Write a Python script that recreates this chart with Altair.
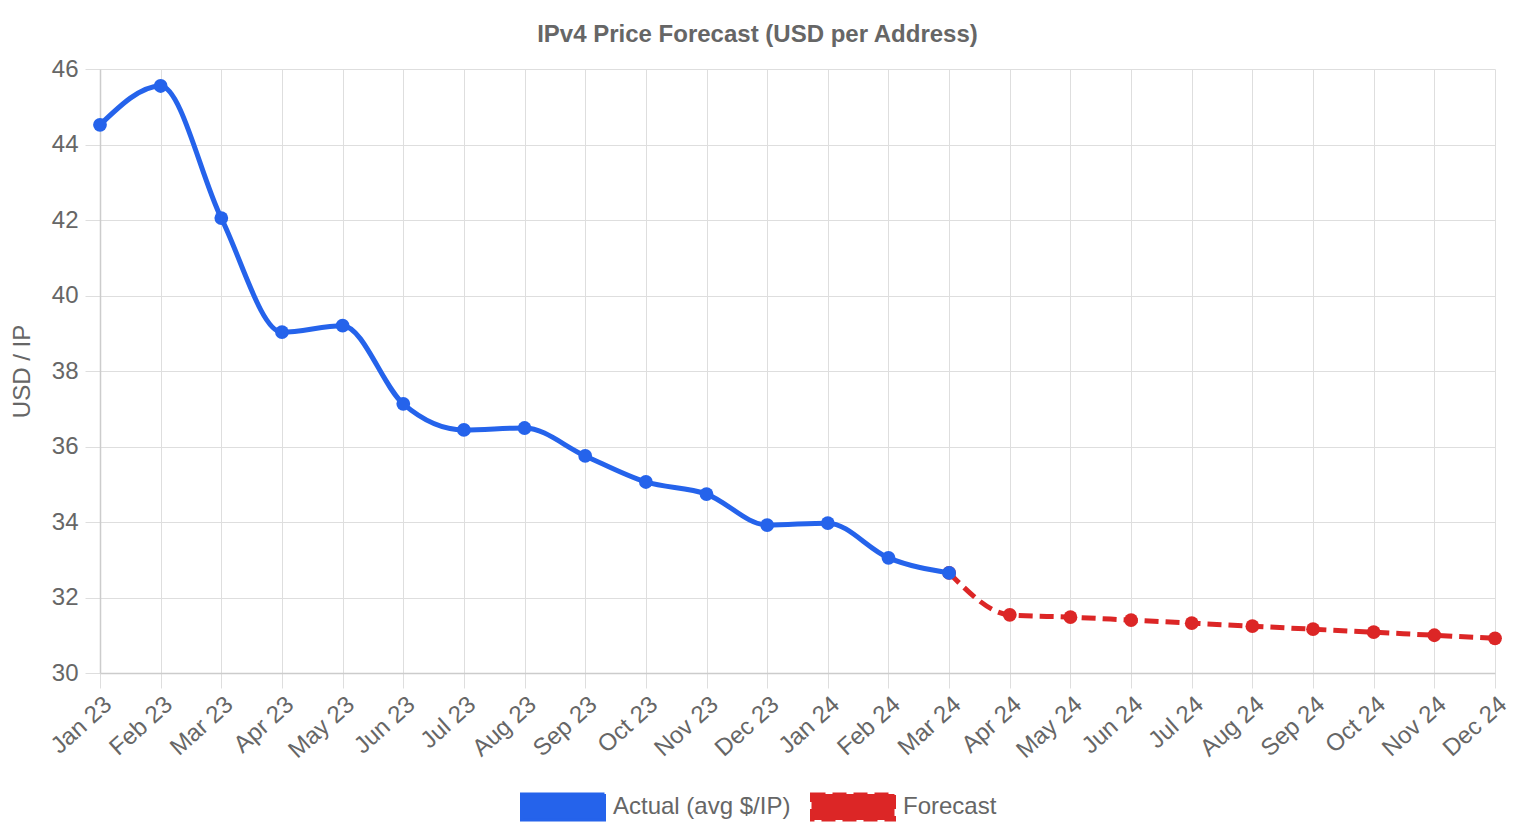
import altair as alt
import pandas as pd

# Monthly labels, Jan 2023 through Dec 2024
months = [
    "Jan 23", "Feb 23", "Mar 23", "Apr 23", "May 23", "Jun 23",
    "Jul 23", "Aug 23", "Sep 23", "Oct 23", "Nov 23", "Dec 23",
    "Jan 24", "Feb 24", "Mar 24", "Apr 24", "May 24", "Jun 24",
    "Jul 24", "Aug 24", "Sep 24", "Oct 24", "Nov 24", "Dec 24",
]

# Observed average price per IPv4 address (Jan 23 - Mar 24)
actual_values = [44.52, 45.55, 42.05, 39.03, 39.20, 37.13, 36.44, 36.49,
                 35.75, 35.06, 34.74, 33.92, 33.97, 33.05, 32.65]

# Forecast, continuing from the last observed month (Mar 24 - Dec 24)
forecast_values = [32.65, 31.54, 31.48, 31.40, 31.32, 31.24, 31.16, 31.08,
                   31.00, 30.92]

ACTUAL = "Actual (avg $/IP)"
FORECAST = "Forecast"
BLUE = "#2563eb"
RED = "#dc2626"
TEXT = "#666666"
FONT = "Liberation Sans"
DASH = [14, 7]

actual_df = pd.DataFrame({
    "month": months[:len(actual_values)],
    "price": actual_values,
    "series": ACTUAL,
})
forecast_df = pd.DataFrame({
    "month": months[len(actual_values) - 1:],
    "price": forecast_values,
    "series": FORECAST,
})

x_enc = alt.X(
    "month:N",
    sort=months,
    scale=alt.Scale(type="point", domain=months, padding=0),
    axis=alt.Axis(
        title=None,
        grid=True,
        labelAngle=-42,
        labelAlign="right",
        labelBaseline="top",
        labelPadding=4,
        tickSize=15,
        labelFontSize=24,
    ),
)
y_enc = alt.Y(
    "price:Q",
    scale=alt.Scale(domain=[30, 46], nice=False, zero=False),
    axis=alt.Axis(
        title="USD / IP",
        values=list(range(30, 47, 2)),
        tickSize=15,
        labelPadding=7,
        labelFontSize=24,
        titleFontSize=24,
        titleFontWeight="normal",
        titleX=-78,
        titleY=302,
        titleAngle=-90,
        titleAlign="center",
        titleBaseline="middle",
    ),
)

series_domain = [ACTUAL, FORECAST]
fill_enc = alt.Fill(
    "series:N",
    scale=alt.Scale(domain=series_domain, range=[BLUE, RED]),
    legend=alt.Legend(
        title=None,
        orient="none",
        direction="horizontal",
        legendX=420,
        legendY=695,
        symbolType="M-1,-0.313H1V0.313H-1Z",
        symbolSize=6889,
        symbolStrokeWidth=3,
        symbolOpacity=1,
        labelFontSize=24,
        labelOffset=7,
        labelLimit=400,
        columnPadding=14,
        labelColor=TEXT,
        labelFont=FONT,
    ),
)
stroke_enc = alt.Stroke(
    "series:N",
    scale=alt.Scale(domain=series_domain, range=[BLUE, RED]),
)
dash_enc = alt.StrokeDash(
    "series:N",
    scale=alt.Scale(domain=series_domain, range=[[1, 0], DASH]),
)

forecast_line = alt.Chart(forecast_df).mark_line(
    strokeWidth=5, strokeDash=DASH, interpolate="monotone", color=RED
).encode(x=x_enc, y=y_enc)

forecast_pts = alt.Chart(forecast_df).mark_point(
    filled=True, size=190, opacity=1, strokeWidth=0
).encode(x=x_enc, y=y_enc, fill=fill_enc, stroke=stroke_enc,
         strokeDash=dash_enc)

actual_line = alt.Chart(actual_df).mark_line(
    strokeWidth=5, interpolate="monotone", color=BLUE
).encode(x=x_enc, y=y_enc)

actual_pts = alt.Chart(actual_df).mark_point(
    filled=True, size=190, opacity=1, strokeWidth=0
).encode(x=x_enc, y=y_enc, fill=fill_enc, stroke=stroke_enc,
         strokeDash=dash_enc)

chart = alt.layer(
    forecast_line, forecast_pts, actual_line, actual_pts
).properties(
    width=1395,
    height=604,
    autosize=alt.AutoSizeParams(type="none"),
    padding={"left": 100, "top": 69, "right": 25, "bottom": 167},
    title=alt.Title(
        "IPv4 Price Forecast (USD per Address)",
        fontSize=24,
        fontWeight="bold",
        color=TEXT,
        font=FONT,
        anchor="middle",
        dx=-40,
        offset=10,
    ),
).configure_view(
    stroke=None
).configure_axis(
    labelColor=TEXT,
    titleColor=TEXT,
    labelFont=FONT,
    titleFont=FONT,
    gridColor="#dedede",
    tickColor="#dedede",
    domainColor="#cccccc",
    domainWidth=1.5,
    gridWidth=1,
)

chart.save("out.html", embed_options={"renderer": "svg", "actions": False})
